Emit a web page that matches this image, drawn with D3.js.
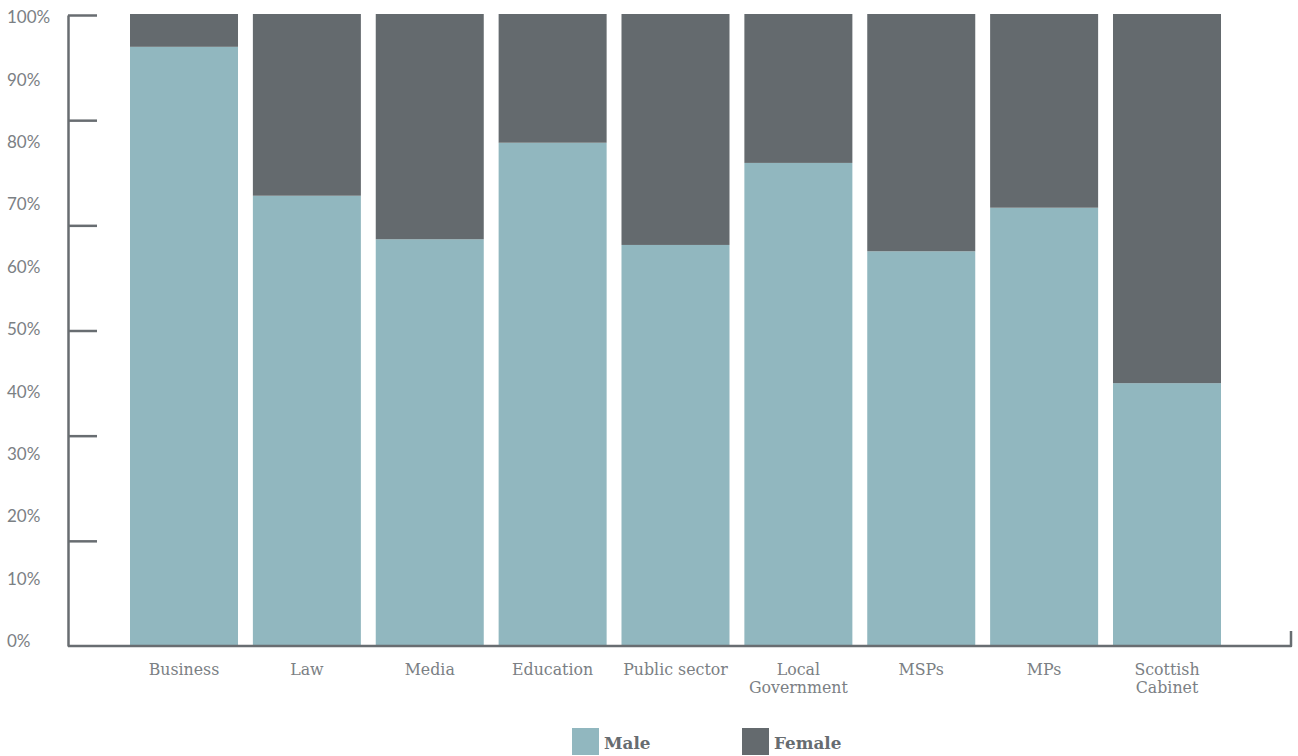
<!DOCTYPE html>
<html>
<head>
<meta charset="utf-8">
<script src="https://cdn.jsdelivr.net/npm/d3@7"></script>
<style>
  html, body { margin: 0; padding: 0; background: #fff; }
  svg { display: block; }
</style>
</head>
<body>
<svg id="chart" width="1298" height="756"></svg>
<script>
// Share of men and women in each sector (percent)
const categories = [
  ["Business"], ["Law"], ["Media"], ["Education"], ["Public sector"],
  ["Local", "Government"], ["MSPs"], ["MPs"], ["Scottish", "Cabinet"]
];
const male   = [94.8, 71.2, 64.3, 79.6, 63.4, 76.4, 62.4, 69.3, 41.5];
const female = male.map(v => 100 - v);
const yTickLabels = [0, 10, 20, 30, 40, 50, 60, 70, 80, 90, 100];
const seriesNames = ["Male", "Female"];

const colors = { Male: "#91b7bf", Female: "#646a6e" };
const axisColor = "#686d71";
const textColor = "#7b8084";

const svg = d3.select("#chart");

const x = d3.scaleBand()
  .domain(d3.range(categories.length))
  .range([130, 1221])
  .paddingInner(0.121)
  .paddingOuter(0);

const y = d3.scaleLinear().domain([0, 100]).range([645, 14]);

// stacked data: male at the bottom, female above
const rows = categories.map((c, i) => ({ i, Male: male[i], Female: female[i] }));
const stack = d3.stack().keys(seriesNames)(rows);

svg.append("g").selectAll("g")
  .data(stack)
  .join("g")
  .attr("fill", d => colors[d.key])
  .selectAll("rect")
  .data(d => d)
  .join("rect")
  .attr("x", d => x(d.data.i))
  .attr("width", x.bandwidth())
  .attr("y", d => y(d[1]))
  .attr("height", d => y(d[0]) - y(d[1]));

// y axis line with inward ticks
const tickScale = d3.scaleLinear().domain([0, 6]).range([646, 15]);
const yAxis = svg.append("g")
  .attr("transform", "translate(68,0)")
  .call(d3.axisRight(tickScale).tickValues(d3.range(1, 7)).tickSize(29).tickSizeOuter(0).tickFormat(""));
yAxis.select(".domain").attr("stroke", axisColor).attr("stroke-width", 2.5);
yAxis.selectAll(".tick line").attr("stroke", axisColor).attr("stroke-width", 2.5);

// y percentage labels
const labelScale = d3.scaleLinear().domain([0, 100]).range([641, 17]);
svg.append("g").selectAll("text")
  .data(yTickLabels)
  .join("text")
  .attr("x", 7)
  .attr("y", d => labelScale(d))
  .attr("dy", "0.36em")
  .attr("font-family", "Lato, 'Open Sans', sans-serif")
  .attr("font-size", 17)
  .attr("fill", textColor)
  .text(d => d + "%");

// x axis baseline with a small end tick
svg.append("path")
  .attr("d", `M68,646H1291V631`)
  .attr("fill", "none")
  .attr("stroke", axisColor)
  .attr("stroke-width", 2.5)
  .attr("stroke-linejoin", "round");

// category labels
const catG = svg.append("g").selectAll("text")
  .data(categories)
  .join("text")
  .attr("x", (d, i) => x(i) + x.bandwidth() / 2)
  .attr("y", 669)
  .attr("text-anchor", "middle")
  .attr("font-family", "'DejaVu Serif', serif")
  .attr("font-size", 15.8)
  .attr("fill", textColor);
catG.selectAll("tspan")
  .data(d => d)
  .join("tspan")
  .attr("x", function () { return d3.select(this.parentNode).attr("x"); })
  .attr("dy", (d, j) => j === 0 ? "0.35em" : 18)
  .text(d => d);

// legend
const legend = svg.append("g").selectAll("g")
  .data(seriesNames)
  .join("g")
  .attr("transform", (d, i) => `translate(${572 + i * 170},728)`);
legend.append("rect")
  .attr("width", 27).attr("height", 27)
  .attr("fill", d => colors[d]);
legend.append("text")
  .attr("x", 32).attr("y", 15)
  .attr("dy", "0.35em")
  .attr("font-family", "'DejaVu Serif', serif")
  .attr("font-weight", "bold")
  .attr("font-size", 16.8)
  .attr("fill", "#676c70")
  .text(d => d);
</script>
</body>
</html>
